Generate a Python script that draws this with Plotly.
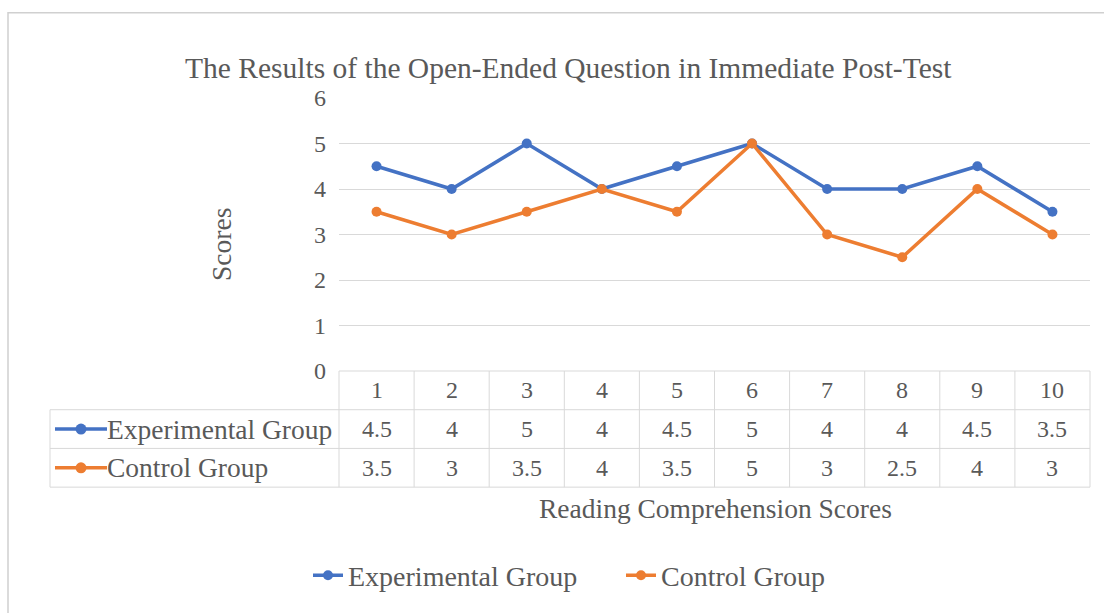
import plotly.graph_objects as go

categories = [1, 2, 3, 4, 5, 6, 7, 8, 9, 10]
experimental = [4.5, 4, 5, 4, 4.5, 5, 4, 4, 4.5, 3.5]
control = [3.5, 3, 3.5, 4, 3.5, 5, 3, 2.5, 4, 3]
series_names = ["Experimental Group", "Control Group"]
series_values = [experimental, control]
colors = ["#4472C4", "#ED7D31"]
y_ticks = [0, 1, 2, 3, 4, 5, 6]

TXT = "#595959"
FONT = "Liberation Serif, Times New Roman, serif"
GRID = "#d9d9d9"

W, H = 1104, 613
ML, MR, MT, MB = 339, 14, 98, 240
PW = W - ML - MR
PH = H - MT - MB


def px(xp):
    return (xp - ML) / PW


def py(yp):
    return (H - MB - yp) / PH


fig = go.Figure()
for name, vals, c in zip(series_names, series_values, colors):
    fig.add_trace(go.Scatter(
        x=categories, y=vals, name=name, mode="lines+markers",
        line=dict(color=c, width=3.5),
        marker=dict(color=c, size=10),
    ))

shapes = []
annotations = []

# outer chart border
shapes.append(dict(type="rect", xref="paper", yref="paper",
                   x0=px(8), x1=px(1110), y0=py(640), y1=py(12),
                   line=dict(color="#d0d0d0", width=1.5), layer="below"))

row_top = [py(373), py(412), py(451), py(490)]
left_x = px(50)
line_style = dict(color=GRID, width=1)
# horizontal lines of data table
shapes.append(dict(type="line", xref="paper", yref="paper", x0=0, x1=1,
                   y0=row_top[0], y1=row_top[0], line=line_style))
for yv in row_top[1:]:
    shapes.append(dict(type="line", xref="paper", yref="paper", x0=left_x, x1=1,
                       y0=yv, y1=yv, line=line_style))
# vertical lines
shapes.append(dict(type="line", xref="paper", yref="paper", x0=left_x, x1=left_x,
                   y0=row_top[1], y1=row_top[3], line=line_style))
shapes.append(dict(type="line", xref="paper", yref="paper", x0=0, x1=0,
                   y0=row_top[0], y1=row_top[3], line=line_style))
shapes.append(dict(type="line", xref="paper", yref="paper", x0=1, x1=1,
                   y0=row_top[0], y1=row_top[3], line=line_style))
for c in categories[:-1]:
    shapes.append(dict(type="line", xref="x", yref="paper", x0=c + 0.5, x1=c + 0.5,
                       y0=row_top[0], y1=row_top[3], line=line_style))

num_font = dict(family=FONT, size=24, color=TXT)
# header row
for c in categories:
    annotations.append(dict(x=c, y=(row_top[0] + row_top[1]) / 2, xref="x", yref="paper",
                            text=str(c), showarrow=False, font=num_font,
                            xanchor="center", yanchor="middle"))
# data rows
for r, (name, vals, col) in enumerate(zip(series_names, series_values, colors)):
    yc = (row_top[r + 1] + row_top[r + 2]) / 2
    for c, v in zip(categories, vals):
        annotations.append(dict(x=c, y=yc, xref="x", yref="paper",
                                text=f"{v:g}", showarrow=False, font=num_font,
                                xanchor="center", yanchor="middle"))
    annotations.append(dict(x=px(105), y=yc, xref="paper", yref="paper",
                            text=name, showarrow=False,
                            font=dict(family=FONT, size=27.5, color=TXT),
                            xanchor="left", yanchor="middle"))
    shapes.append(dict(type="line", xref="paper", yref="paper", x0=px(55), x1=px(107),
                       y0=yc, y1=yc, line=dict(color=col, width=3.5)))
    rr = 5.5
    shapes.append(dict(type="circle", xref="paper", yref="paper",
                       x0=px(81 - rr), x1=px(81 + rr), y0=yc - rr / PH, y1=yc + rr / PH,
                       fillcolor=col, line=dict(color=col, width=0)))

# title
annotations.append(dict(x=px(568), y=py(68), xref="paper", yref="paper",
                        text="The Results of the Open-Ended Question in Immediate Post-Test",
                        showarrow=False, font=dict(family=FONT, size=29.5, color=TXT),
                        xanchor="center", yanchor="middle"))
# y axis title
annotations.append(dict(x=px(222), y=py(246), xref="paper", yref="paper",
                        text="Scores", textangle=-90, showarrow=False,
                        font=dict(family=FONT, size=27.5, color=TXT),
                        xanchor="center", yanchor="middle"))
# x axis title
annotations.append(dict(x=px(715), y=py(512), xref="paper", yref="paper",
                        text="Reading Comprehension Scores", showarrow=False,
                        font=dict(family=FONT, size=27.5, color=TXT),
                        xanchor="center", yanchor="middle"))

fig.update_layout(
    width=W, height=H,
    margin=dict(l=ML, r=MR, t=MT, b=MB),
    paper_bgcolor="white", plot_bgcolor="white",
    font=dict(family=FONT, color=TXT),
    shapes=shapes, annotations=annotations,
    showlegend=True,
    legend=dict(orientation="h", x=px(308), y=py(579), xanchor="left", yanchor="middle",
                font=dict(family=FONT, size=28, color=TXT),
                entrywidth=268, entrywidthmode="pixels",
                bgcolor="rgba(0,0,0,0)"),
    xaxis=dict(range=[0.5, 10.5], showticklabels=False, showgrid=False, zeroline=False,
               showline=False, ticks=""),
    yaxis=dict(range=[0, 6], tickvals=y_ticks, showgrid=True, gridcolor=GRID, gridwidth=1,
               zeroline=False, showline=False, ticks="", ticklabelstandoff=12,
               tickfont=dict(family=FONT, size=24, color=TXT)),
)

fig.write_html("out.html", config={"displayModeBar": False},
               post_script="document.body.style.margin='0';document.body.style.overflow='hidden';")
